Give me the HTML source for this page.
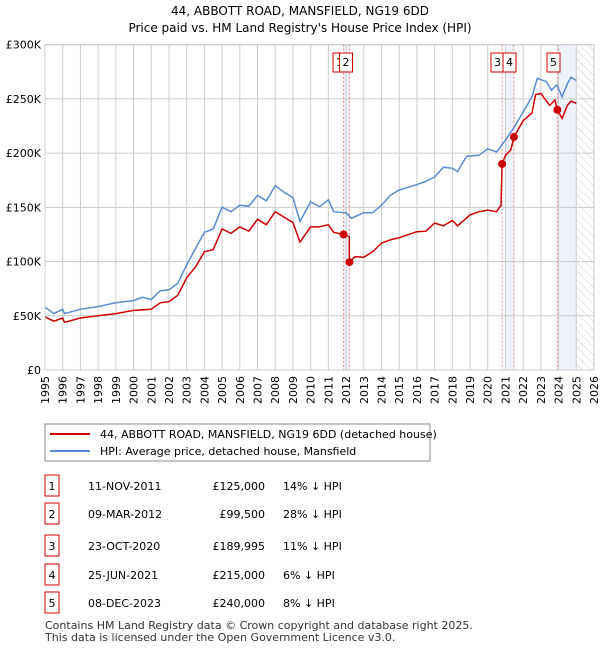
<!DOCTYPE html>
<html><head><meta charset="utf-8"><style>
body{margin:0;background:#fff;font-family:"Liberation Sans","DejaVu Sans",sans-serif;}
svg text{font-family:"DejaVu Sans","Liberation Sans",sans-serif;}
</style></head><body>
<svg id="c" width="600" height="650" viewBox="0 0 600 650">
<defs>
<pattern id="hatch" width="6" height="6" patternUnits="userSpaceOnUse" patternTransform="rotate(-45)">
<line x1="0" y1="0" x2="0" y2="6" stroke="#ccc" stroke-width="1"/></pattern>
</defs>
<text x="300" y="15" text-anchor="middle" font-size="12">44, ABBOTT ROAD, MANSFIELD, NG19 6DD</text>
<text x="300" y="32" text-anchor="middle" font-size="12">Price paid vs. HM Land Registry's House Price Index (HPI)</text>
<g id="plot"></g>
<rect x="45" y="424" width="385" height="37" fill="#fff" stroke="#888"/>
<line x1="50" y1="434" x2="90" y2="434" stroke="#cc0000" stroke-width="2"/>
<text x="100" y="438" font-size="11">44, ABBOTT ROAD, MANSFIELD, NG19 6DD (detached house)</text>
<line x1="50" y1="451" x2="90" y2="451" stroke="#5b8bd0" stroke-width="2"/>
<text x="100" y="455" font-size="11">HPI: Average price, detached house, Mansfield</text>
<g id="table"></g>
<text x="45" y="629" font-size="11" fill="#333">Contains HM Land Registry data © Crown copyright and database right 2025.</text>
<text x="45" y="641" font-size="11" fill="#333">This data is licensed under the Open Government Licence v3.0.</text>
</svg>
<script>
const hpiDates=[1995,1995.5,1996,1996.1,1997,1998,1999,2000,2000.5,2001,2001.5,2002,2002.5,2003,2003.5,2004,2004.5,2005,2005.5,2006,2006.5,2007,2007.5,2008,2008.5,2009,2009.4,2010,2010.5,2011,2011.3,2012,2012.3,2013,2013.5,2014,2014.5,2015,2016,2016.5,2017,2017.5,2018,2018.3,2018.8,2019.5,2020,2020.5,2021,2021.5,2022,2022.5,2022.8,2023.3,2023.6,2023.9,2024.2,2024.5,2024.7,2025];
const hpiValues=[58,52,56,52,56,58.5,62,64,67,65,73,74,80,97,112,127,130,150,146,152,151,161,156,170,164,159,137,155,150.6,157,146,145,140,145,145,152,161,166,171,174,178,187,186,183,197,198,204,201,212,224,238,252,269,266,258,263,252,264,270,267];
const priceDates=[1995,1995.5,1996,1996.1,1997,1998,1999,2000,2001,2001.5,2002,2002.5,2003,2003.5,2004,2004.5,2005,2005.5,2006,2006.5,2007,2007.5,2008,2008.5,2009,2009.4,2010,2010.5,2011,2011.3,2011.86,2012.18,2012.19,2012.5,2013,2013.5,2014,2014.5,2015,2016,2016.5,2017,2017.5,2018,2018.3,2019,2019.5,2020,2020.5,2020.75,2020.81,2021,2021.3,2021.48,2022,2022.5,2022.7,2023,2023.5,2023.8,2023.93,2024.2,2024.5,2024.7,2025];
const priceValues=[49,45,48,44,48,50,52,55,56,62,63,69,85,95,109,111,130,126,132,128,139,134,146,141,136,118,132,132,134,127,125,123,99.5,104.5,104,109,117,120,122,127.5,128,135.5,133,138,133,143,146,147.5,146,152,190,198,203,215,230,237,254,255,244,249,240,232,244,248,246];
const saleDates=[2011.86,2012.19,2020.81,2021.48,2023.93];
const salePrices=[125,99.5,189.995,215,240];
const saleLabels=["1","2","3","4","5"];
const yTicks=[0,50,100,150,200,250,300];
const yTickLabels=["£0","£50K","£100K","£150K","£200K","£250K","£300K"];
const xYears=[];for(let y=1995;y<=2026;y++)xYears.push(y);
const tDates=["11-NOV-2011","09-MAR-2012","23-OCT-2020","25-JUN-2021","08-DEC-2023"];
const tPrices=["£125,000","£99,500","£189,995","£215,000","£240,000"];
const tHpi=["14% ↓ HPI","28% ↓ HPI","11% ↓ HPI","6% ↓ HPI","8% ↓ HPI"];

const L=45,R=594,T=44.7,B=370;
const xs=d=>L+(d-1995)/(2026-1995)*(R-L);
const ys=v=>B-v/300*(B-T);
const NS="http://www.w3.org/2000/svg";
const plot=document.getElementById('plot');
function mk(tag,attrs,parent){const e=document.createElementNS(NS,tag);for(const k in attrs)e.setAttribute(k,attrs[k]);(parent||plot).appendChild(e);return e;}
const shades=[[saleDates[0],saleDates[1]],[2021.0,saleDates[3]],[saleDates[4],2025.0]];
shades.forEach((s,i)=>{const r=mk('rect',{x:xs(s[0]),y:T,width:xs(s[1])-xs(s[0]),height:B-T,fill:'#eef3fb'});

});
const h=mk('rect',{x:xs(2025),y:T,width:R-xs(2025),height:B-T,fill:'url(#hatch)'});


xYears.forEach(y=>{const l=mk('line',{x1:xs(y),x2:xs(y),y1:T,y2:B,stroke:'#ccc'});


const t=mk('text',{x:0,y:0,'font-size':11,'text-anchor':'end',transform:`translate(${xs(y)+4},${B+6}) rotate(-90)`});t.textContent=y;

});
yTicks.forEach((v,i)=>{const l=mk('line',{x1:L,x2:R,y1:ys(v),y2:ys(v),stroke:'#ccc'});


const t=mk('text',{x:L-4,y:ys(v)+4,'font-size':11,'text-anchor':'end'});t.textContent=yTickLabels[i];

});
saleDates.forEach((d,i)=>{const l=mk('line',{x1:xs(d),x2:xs(d),y1:T,y2:B,stroke:'#e88','stroke-dasharray':'2,2'});

});
const line=(ds,vs)=>ds.map((d,i)=>(i?'L':'M')+xs(d).toFixed(1)+' '+ys(vs[i]).toFixed(1)).join('');
const hp=mk('path',{d:line(hpiDates,hpiValues),fill:'none',stroke:'#5b8bd0','stroke-width':1.5});


const pp=mk('path',{d:line(priceDates,priceValues),fill:'none',stroke:'#cc0000','stroke-width':1.5});


const boxX=[333,339.5,491,503,547];
saleDates.forEach((d,i)=>{const c=mk('circle',{cx:xs(d),cy:ys(salePrices[i]),r:4,fill:'#cc0000'});


const bx=boxX[i];
const r=mk('rect',{x:bx,y:53,width:13,height:19,fill:'#fff',stroke:'#cc0000'});


const t=mk('text',{x:bx+6.5,y:66,'font-size':11,'text-anchor':'middle'});t.textContent=saleLabels[i];

});
const ax=mk('rect',{x:L,y:T,width:R-L,height:B-T,fill:'none',stroke:'#ccc'});


const tb=document.getElementById('table');
const rowsY=[486,514,546,575,603];
rowsY.forEach((y,i)=>{const r=mk('rect',{x:45,y:y-11,width:14,height:21,fill:'#fff',stroke:'#cc0000'},tb);


const cells=[[52,'middle',saleLabels[i]],[88,'start',tDates[i]],[265,'end',tPrices[i]],[283,'start',tHpi[i]]];
cells.forEach((c,j)=>{const t=mk('text',{x:c[0],y:y+4,'font-size':11,'text-anchor':c[1]},tb);t.textContent=c[2];

});});
</script>
</body></html>
